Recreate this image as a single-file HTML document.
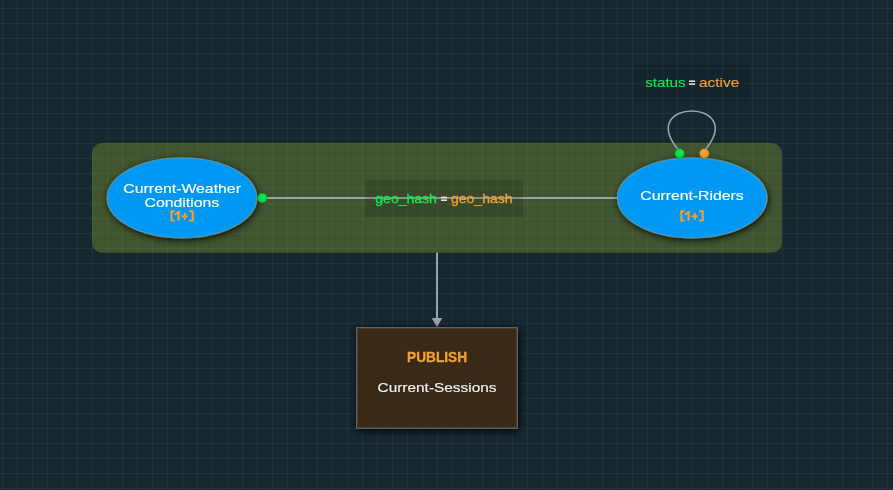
<!DOCTYPE html>
<html><head><meta charset="utf-8">
<style>
html,body{margin:0;padding:0;width:893px;height:490px;overflow:hidden;background:#162830;}
svg{display:block;position:absolute;left:0;top:0;will-change:transform;}
text{font-family:"Liberation Sans",sans-serif;}
</style></head>
<body>
<svg width="893" height="490" viewBox="0 0 893 490">
<defs>
<pattern id="grid" x="2" y="8" width="15" height="15" patternUnits="userSpaceOnUse">
<rect x="0" y="0" width="1" height="15" fill="rgba(255,255,255,0.048)"/>
<rect x="0" y="0" width="15" height="1" fill="rgba(255,255,255,0.048)"/>
</pattern>
<filter id="sh" x="-30%" y="-30%" width="160%" height="160%">
<feGaussianBlur in="SourceAlpha" stdDeviation="4"/>
<feOffset dx="1" dy="1.5"/>
<feComponentTransfer><feFuncA type="linear" slope="0.95"/></feComponentTransfer>
<feMerge><feMergeNode/><feMergeNode in="SourceGraphic"/></feMerge>
</filter>
<filter id="esh" x="-30%" y="-30%" width="160%" height="160%">
<feGaussianBlur in="SourceAlpha" stdDeviation="3.5"/>
<feOffset dx="0.5" dy="1.5"/>
<feComponentTransfer><feFuncA type="linear" slope="0.9"/></feComponentTransfer>
<feMerge><feMergeNode/><feMergeNode in="SourceGraphic"/></feMerge>
</filter>
<radialGradient id="gg" cx="0.6" cy="0.4" r="0.7"><stop offset="0" stop-color="#08f24c"/><stop offset="1" stop-color="#07c83f"/></radialGradient>
<radialGradient id="og" cx="0.4" cy="0.3" r="0.8"><stop offset="0" stop-color="#f7a63a"/><stop offset="1" stop-color="#e08a28"/></radialGradient>
</defs>
<rect width="893" height="490" fill="#162830"/>
<rect width="893" height="490" fill="url(#grid)"/>
<rect x="92" y="143" width="690" height="109.7" rx="10" ry="10" fill="rgb(162,190,48)" fill-opacity="0.3"/>
<rect x="634.7" y="63.9" width="114.8" height="37.5" fill="rgba(0,0,0,0.08)"/>
<line x1="262" y1="198" x2="618" y2="198" stroke="#97a4ab" stroke-width="2"/>
<rect x="365" y="180" width="158" height="37.5" fill="rgba(0,0,0,0.12)"/>
<path d="M680.2 152 C631.3 97.3, 752.2 97.3, 703.3 152" fill="none" stroke="#97a4ab" stroke-width="1.6"/>
<line x1="437" y1="252.7" x2="437" y2="319" stroke="#97a4ab" stroke-width="2"/>
<path d="M431.8 318 L442.2 318 L437 327.6 Z" fill="#97a4ab"/>
<ellipse cx="182" cy="197.9" rx="74.8" ry="40.1" fill="rgb(5,152,243)" stroke="rgba(235,240,225,0.25)" stroke-width="1.1" filter="url(#esh)"/>
<ellipse cx="692.2" cy="197.9" rx="74.8" ry="40.1" fill="rgb(5,152,243)" stroke="rgba(235,240,225,0.25)" stroke-width="1.1" filter="url(#esh)"/>
<circle cx="262.3" cy="198" r="4.9" fill="url(#gg)" stroke="rgba(0,0,0,0.25)" stroke-width="0.6"/>
<circle cx="679.6" cy="153.5" r="4.9" fill="url(#gg)" stroke="rgba(0,0,0,0.25)" stroke-width="0.6"/>
<circle cx="704.3" cy="153.5" r="4.9" fill="url(#og)" stroke="rgba(0,0,0,0.25)" stroke-width="0.6"/>
<rect x="356.5" y="327.5" width="161" height="101" fill="#372c19" stroke="#56646a" stroke-width="1" filter="url(#sh)"/>
<rect x="357.5" y="328.5" width="159" height="99" fill="none" stroke="rgba(150,135,100,0.2)" stroke-width="1"/>
<g id="b1" fill="#f5a032" stroke="none">
<path d="M174.7 211.3 H171.4 V220.6 H174.7" fill="none" stroke="#f5a032" stroke-width="2"/>
<rect x="177.5" y="211.1" width="2.1" height="9.5"/>
<path d="M178.8 211.9 L175.4 214.3" stroke="#f5a032" stroke-width="2" stroke-linecap="round"/>
<rect x="181.5" y="215.4" width="6.3" height="1.9"/>
<rect x="183.9" y="212.9" width="1.9" height="6.7"/>
<path d="M189.2 211.2 H192.7 V220.6 H189.2" fill="none" stroke="#f5a032" stroke-width="2"/>
</g>
<use href="#b1" x="510" y="0"/>
<g fill="#dcdeda">
<rect x="441" y="196.6" width="6.1" height="1.6"/><rect x="441" y="199.4" width="6.1" height="1.6"/>
<rect x="689" y="80.4" width="6.1" height="1.6"/><rect x="689" y="83.3" width="6.1" height="1.6"/>
</g>
<text x="123.39" y="193" font-size="13" fill="#ffffff" stroke="#ffffff" stroke-width="0.15" textLength="117.58" lengthAdjust="spacingAndGlyphs">Current-Weather</text>
<text x="144.48" y="207" font-size="13" fill="#ffffff" stroke="#ffffff" stroke-width="0.15" textLength="74.82" lengthAdjust="spacingAndGlyphs">Conditions</text>
<text x="640.35" y="200" font-size="13" fill="#ffffff" stroke="#ffffff" stroke-width="0.15" textLength="103.27" lengthAdjust="spacingAndGlyphs">Current-Riders</text>
<text x="375.35" y="203" font-size="13" fill="#10ee50" stroke="#10ee50" stroke-width="0.3" textLength="61.46" lengthAdjust="spacingAndGlyphs">geo_hash</text>
<text x="451.05" y="203" font-size="13" fill="#f5a032" stroke="#f5a032" stroke-width="0.3" textLength="61.39" lengthAdjust="spacingAndGlyphs">geo_hash</text>
<text x="645.22" y="87" font-size="13" fill="#10ee50" stroke="#10ee50" stroke-width="0.12" textLength="40.40" lengthAdjust="spacingAndGlyphs">status</text>
<text x="699.00" y="87" font-size="13" fill="#f5a032" stroke="#f5a032" stroke-width="0.12" textLength="40.22" lengthAdjust="spacingAndGlyphs">active</text>
<text x="407.01" y="362" font-size="14" fill="#f5a032" font-weight="bold" stroke="#f5a032" stroke-width="0.3" textLength="60.16" lengthAdjust="spacingAndGlyphs">PUBLISH</text>
<text x="377.56" y="392" font-size="13" fill="#f2f2f2" stroke="#f2f2f2" stroke-width="0.15" textLength="118.95" lengthAdjust="spacingAndGlyphs">Current-Sessions</text>
</svg>
</body></html>
